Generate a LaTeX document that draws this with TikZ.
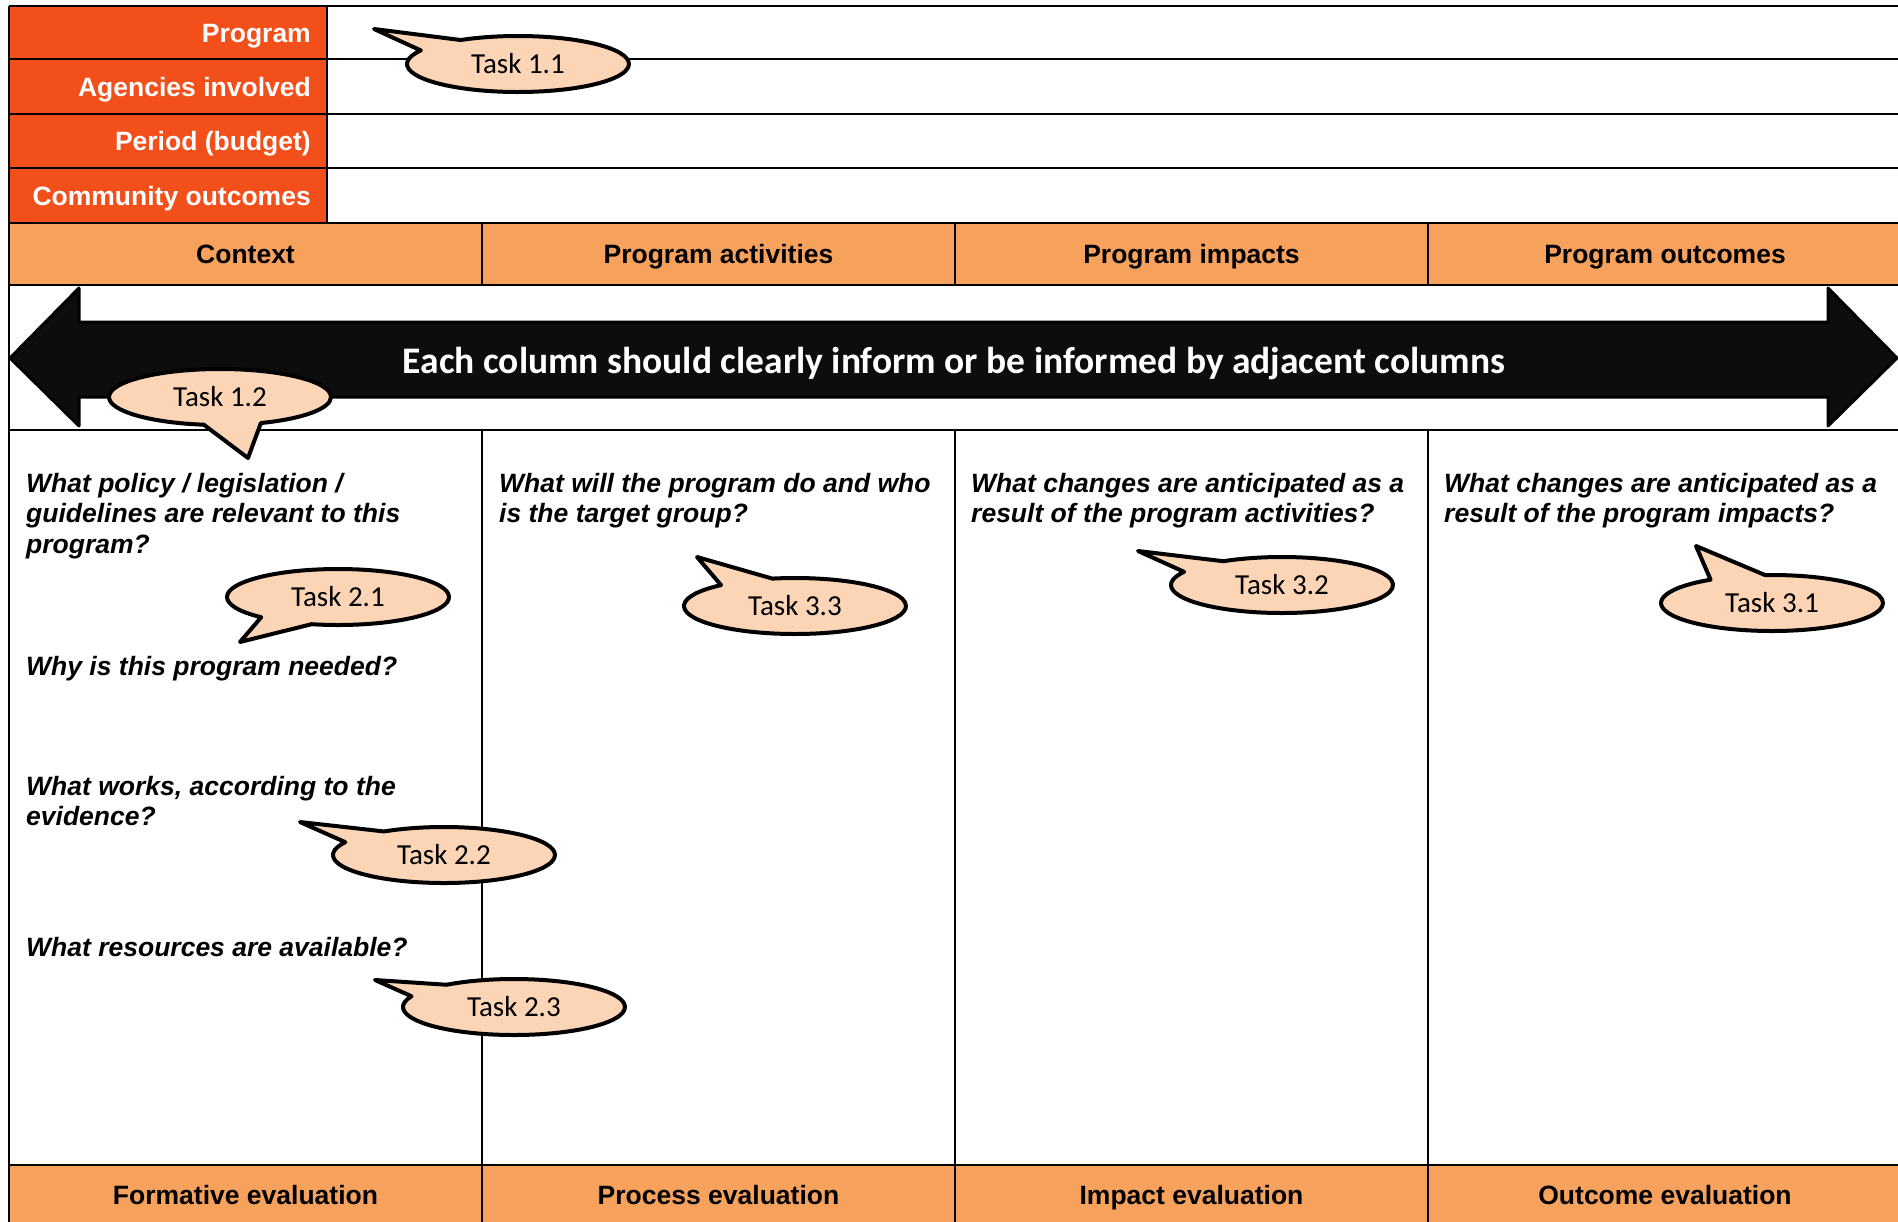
\documentclass[tikz,border=0pt]{standalone}
\usepackage{fontspec}
\setmainfont{Liberation Sans}
\newfontfamily\calibri{Carlito}
\usetikzlibrary{shapes.callouts}
\definecolor{labelred}{RGB}{243,79,27}
\definecolor{headorange}{RGB}{247,162,92}
\definecolor{taskpeach}{RGB}{251,213,181}
\definecolor{arrowblack}{RGB}{13,13,13}

\begin{document}
\begin{tikzpicture}[x=1pt,y=-1pt,
  grid/.style={line width=2pt},
  rowlabel/.style={anchor=east,text=white,inner sep=0pt,text height=19pt,text depth=0pt,font=\fontsize{26.5}{30}\selectfont\bfseries},
  colhead/.style={inner sep=0pt,text height=19pt,text depth=0pt,font=\fontsize{26.5}{30}\selectfont\bfseries},
  question/.style={anchor=north west,align=left,inner sep=0pt,font=\fontsize{26.5}{30.3}\selectfont\bfseries\itshape},
  task/.style={ellipse callout,draw,line width=4pt,line join=round,fill=taskpeach,minimum width=222pt,minimum height=56pt,inner sep=0pt,callout pointer arc=30,font=\calibri\fontsize{29}{34}\selectfont}]
\clip (0,0) rectangle (1898,1221);
% coloured cells
\fill[labelred] (9,6) rectangle (327,223);
\fill[headorange] (9,223) rectangle (1910,285);
\fill[headorange] (9,1165) rectangle (1910,1230);
% table lines
\draw[grid] (9,6) -- (9,1230);
\draw[grid] (327,6) -- (327,223);
\foreach \y in {6,59,114,168,223,285,430,1165}
  \draw[grid] (9,\y) -- (1910,\y);
\foreach \x in {482,955,1428} {
  \draw[grid] (\x,223) -- (\x,285);
  \draw[grid] (\x,430) -- (\x,1230);
}
% row labels
\node[rowlabel] (program) at (311,33) {Program};
\node[rowlabel] (agencies) at (311,87) {Agencies involved};
\node[rowlabel] (period) at (311,141) {Period (budget)};
\node[rowlabel] (community) at (311,196) {Community outcomes};
% column headers
\node[colhead] (context) at (245.5,254) {Context};
\node[colhead] (activities) at (718.5,254) {Program activities};
\node[colhead] (impacts) at (1191.5,254) {Program impacts};
\node[colhead] (outcomes) at (1665,254) {Program outcomes};
% double arrow
\draw[line width=3pt,line join=round,fill=arrowblack] (10,358) -- (79,288) -- (79,322) -- (1828,322) -- (1828,288)
  -- (1897,358) -- (1828,426) -- (1828,397) -- (79,397) -- (79,426) -- cycle;
\node[text=white,text height=25pt,text depth=0pt,font=\calibri\bfseries\fontsize{37.5}{44}\selectfont] (inform) at (954,361)
  {Each column should clearly inform or be informed by adjacent columns};
% questions
\node[question] (policy) at (26,473) {What policy / legislation /\\guidelines are relevant to this\\program?};
\node[question] (needed) at (26,656) {Why is this program needed?};
\node[question] (works) at (26,776) {What works, according to the\\evidence?};
\node[question] (resources) at (26,937) {What resources are available?};
\node[question] (target) at (499,473) {What will the program do and who\\is the target group?};
\node[question] (changes) at (971,473) {What changes are anticipated as a\\result of the program activities?};
\node[question] (results) at (1444,473) {What changes are anticipated as a\\result of the program impacts?};
% footers
\node[colhead] (formative) at (245.5,1195) {Formative evaluation};
\node[colhead] (process) at (718.5,1195) {Process evaluation};
\node[colhead] (impact) at (1191.5,1195) {Impact evaluation};
\node[colhead] (outcome) at (1665,1195) {Outcome evaluation};
% task callouts
\node[task,callout absolute pointer={(374,29)}] (t11) at (518,64) {Task 1.1};
\node[task,callout absolute pointer={(248,458)}] (t12) at (220,397) {Task 1.2};
\node[task,callout absolute pointer={(240,642)}] (t21) at (338,597) {Task 2.1};
\node[task,callout absolute pointer={(300,822)}] (t22) at (444,855) {Task 2.2};
\node[task,callout absolute pointer={(375,980)}] (t23) at (514,1007) {Task 2.3};
\node[task,callout absolute pointer={(697,557)}] (t33) at (795,606) {Task 3.3};
\node[task,callout absolute pointer={(1138,551)}] (t32) at (1282,585) {Task 3.2};
\node[task,callout absolute pointer={(1696,546)}] (t31) at (1772,603) {Task 3.1};
\end{tikzpicture}
\end{document}
